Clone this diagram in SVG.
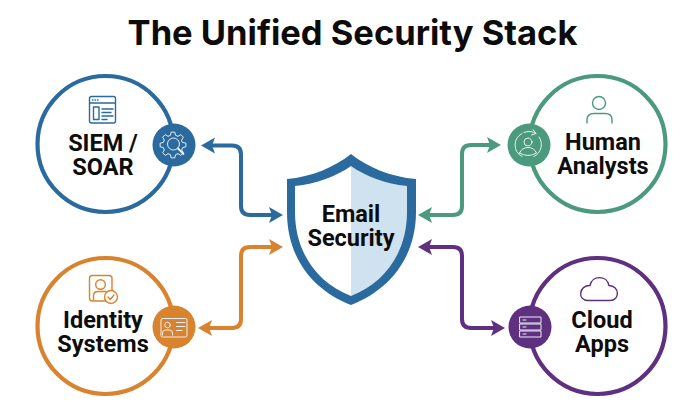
<svg xmlns="http://www.w3.org/2000/svg" width="700" height="413" viewBox="0 0 700 413">
<defs>
<marker id="hb" markerUnits="userSpaceOnUse" viewBox="-1 -9 16 18" markerWidth="16" markerHeight="18" refX="3" refY="0" orient="auto-start-reverse"><path d="M0 -8 L14 0 L0 8 L3 0 Z" fill="#2a6a9e"/></marker>
<marker id="ho" markerUnits="userSpaceOnUse" viewBox="-1 -9 16 18" markerWidth="16" markerHeight="18" refX="3" refY="0" orient="auto-start-reverse"><path d="M0 -8 L14 0 L0 8 L3 0 Z" fill="#d9832e"/></marker>
<marker id="hg" markerUnits="userSpaceOnUse" viewBox="-1 -9 16 18" markerWidth="16" markerHeight="18" refX="3" refY="0" orient="auto-start-reverse"><path d="M0 -8 L14 0 L0 8 L3 0 Z" fill="#4b9a7d"/></marker>
<marker id="hp" markerUnits="userSpaceOnUse" viewBox="-1 -9 16 18" markerWidth="16" markerHeight="18" refX="3" refY="0" orient="auto-start-reverse"><path d="M0 -8 L14 0 L0 8 L3 0 Z" fill="#5f2f80"/></marker>
</defs>
<style>
text{font-family:"Roboto","Liberation Sans",sans-serif;font-weight:700;fill:#0d0d0d;text-anchor:middle;font-size:23.5px}
.title{font-family:"Inter","Liberation Sans",sans-serif;font-size:34.500px;fill:#0c0c0c}
.ring{fill:#fff;stroke-width:4.200}
.conn{fill:none;stroke-width:4}
.ic{fill:none;stroke-width:1.400;stroke-linecap:round;stroke-linejoin:round}
.w{fill:none;stroke:#e8f0f4;stroke-width:1;stroke-linecap:round;stroke-linejoin:round}
.b{stroke:#2a6a9e}.o{stroke:#d9832e}.g{stroke:#4b9a7d}.p{stroke:#5f2f80}
</style>
<rect width="700" height="413" fill="#fff"/>
<text class="title" x="352.500" y="45">The Unified Security Stack</text>
<g id="connectors">
<path class="conn b" marker-start="url(#hb)" marker-end="url(#hb)" d="M212 145.500H232Q241 145.500 241 154.500V206Q241 215 250 215H272"/>
<path class="conn o" marker-start="url(#ho)" marker-end="url(#ho)" d="M209 328H232Q241 328 241 319V256Q241 247 250 247H272"/>
<path class="conn g" marker-start="url(#hg)" marker-end="url(#hg)" d="M429 215H453Q462 215 462 206V154Q462 145 471 145H490"/>
<path class="conn p" marker-start="url(#hp)" marker-end="url(#hp)" d="M429 247H453Q462 247 462 256V319Q462 328 471 328H494"/>
</g>
<g id="node-email">
<path d="M351 154C335 167 311 177 287 179V212C287 255 310 289 351 305C392 289 416 255 416 212V179C391 177 367 167 351 154Z" fill="#2a6a9e"/>
<path d="M351 166C337 176 316 184 295 186V212C295 250 315 282 351 296Z" fill="#fff"/>
<path d="M351 166C365 176 386 184 407 186V212C407 250 387 282 351 296Z" fill="#cfe2f0"/>
<text y="222"><tspan x="351">Email</tspan><tspan x="351" dy="24">Security</tspan></text>
</g>
<g id="node-siem">
<circle class="ring b" cx="105.500" cy="144" r="68"/>
<circle cx="174" cy="145" r="21.500" fill="#2a6a9e"/>
<g class="ic b">
<rect x="89.500" y="96.500" width="26" height="26.500" rx="2"/>
<path d="M90 103H115M102 109H113M102 112.500H111M102 116H113M102 119.500H107"/>
<rect x="93.500" y="107" width="5.500" height="12.500"/>
<path d="M92.500 100H93M95 100H95.500M97.500 100H98"/>
</g>
<g class="w" transform="translate(173 145)">
<path d="M9.660 -2.590L12.870 -1.810L12.870 1.810L9.660 2.590L8.660 5L10.380 7.820L7.820 10.380L5 8.660L2.590 9.660L1.810 12.870L-1.810 12.870L-2.590 9.660L-5 8.660L-7.820 10.380L-10.380 7.820L-8.660 5L-9.660 2.590L-12.870 1.810L-12.870 -1.810L-9.660 -2.590L-8.660 -5L-10.380 -7.820L-7.820 -10.380L-5 -8.660L-2.590 -9.660L-1.810 -12.870L1.810 -12.870L2.590 -9.660L5 -8.660L7.820 -10.380L10.380 -7.820L8.660 -5Z" fill="#2a6a9e"/>
<circle cx="0.500" cy="-1" r="6" fill="#2a6a9e"/>
<path d="M5 3.500L10.500 9" stroke-width="1.800"/>
</g>
<text y="151"><tspan x="103">SIEM /</tspan><tspan x="103" dy="24">SOAR</tspan></text>
</g>
<g id="node-identity">
<circle class="ring o" cx="105.500" cy="326" r="68"/>
<circle cx="174" cy="327" r="21.500" fill="#d9832e"/>
<g class="ic o">
<rect x="89.500" y="275.500" width="22.500" height="25.500" rx="3"/>
<circle cx="100.500" cy="284.500" r="4.800"/>
<path d="M93.500 300V296Q93.500 291.500 98 291.500H106"/>
<circle cx="111" cy="297" r="6.500" fill="#fff"/>
<path d="M108 297L110.300 299.500L114 295"/>
</g>
<g class="w">
<rect x="161" y="318.500" width="26" height="18.500" rx="1.500"/>
<circle cx="167.500" cy="325" r="2.800"/>
<path d="M162.500 335V333Q162.500 330 165.500 330H169.500Q172.500 330 172.500 333V335M176.500 322.500H185M176.500 326.500H185M176.500 330.500H182"/>
</g>
<text y="328"><tspan x="103">Identity</tspan><tspan x="103" dy="24">Systems</tspan></text>
</g>
<g id="node-human">
<circle class="ring g" cx="597.500" cy="144" r="68"/>
<circle cx="529" cy="145" r="21.500" fill="#4b9a7d"/>
<g class="ic g">
<circle cx="599" cy="103" r="6.500"/>
<path d="M587 123V120Q587 113.500 594 113.500H605Q612 113.500 612 120V123"/>
</g>
<g class="w">
<path d="M522 133.500A13 13 0 0 0 522 156.500M534 156.500A13 13 0 0 0 539 137M536 133.500A13 13 0 0 0 524 132.500M533 129.500L536 133.500L531.500 135"/>
<circle cx="528" cy="142" r="4"/>
<path d="M519.500 153Q522 147.500 528 147.500Q534 147.500 536.500 153Q528 158 519.500 153Z"/>
</g>
<text y="150"><tspan x="603">Human</tspan><tspan x="603" dy="24">Analysts</tspan></text>
</g>
<g id="node-cloud">
<circle class="ring p" cx="597.500" cy="326" r="68"/>
<circle cx="530" cy="327" r="21.500" fill="#5f2f80"/>
<g class="ic p">
<path d="M588 300.500H610C620 300.500 620 286 609 285.500C607 275 592 275 590 285.500C579 285 577 300.500 588 300.500Z"/>
</g>
<g class="w">
<rect x="520" y="317" width="21" height="6"/>
<rect x="520" y="324" width="21" height="6"/>
<rect x="520" y="331" width="21" height="6"/>
<path d="M523 320H526M523 327H526M523 334H526"/>
</g>
<text y="328"><tspan x="602">Cloud</tspan><tspan x="602" dy="24">Apps</tspan></text>
</g>
</svg>
